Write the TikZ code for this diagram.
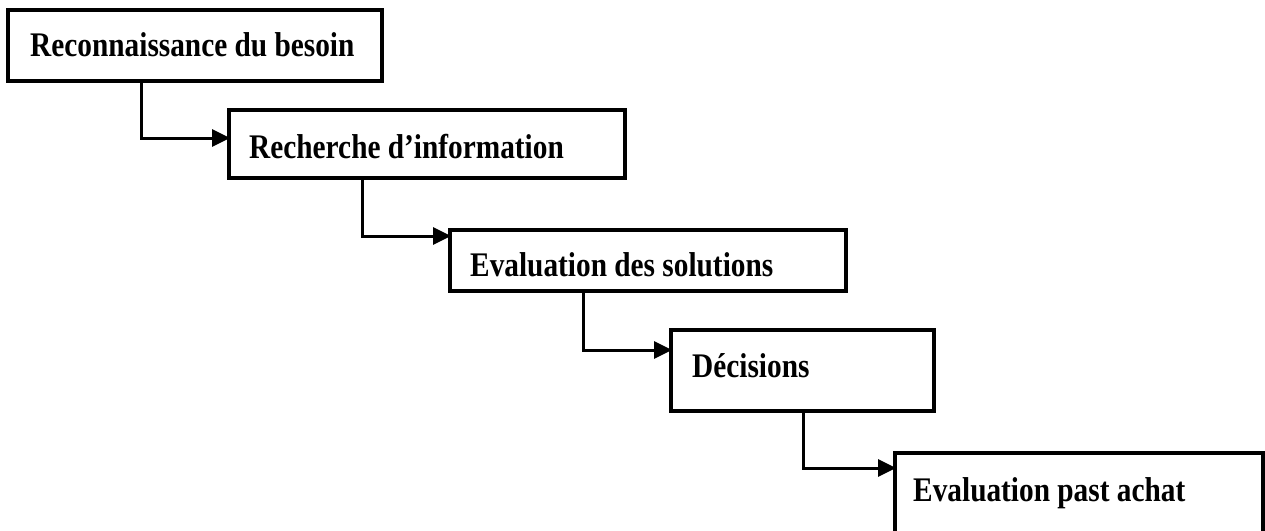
\documentclass[tikz,border=0pt]{standalone}
\usepackage{fontspec}
\setmainfont{Liberation Serif}[FakeStretch=0.85]
\usetikzlibrary{arrows.meta}
\begin{document}
\begin{tikzpicture}[x=1pt,y=-1pt,
  box/.style={draw=black,line width=3.4pt,rectangle,inner sep=0pt,outer sep=0pt},
  lbl/.style={anchor=base west,inner sep=0pt,font=\fontsize{34.5}{40}\selectfont\bfseries},
  conn/.style={line width=3pt,-{Triangle[length=18pt,width=17pt]},shorten >=-1pt}]
\useasboundingbox (0,0) rectangle (1265,530);
% process stages
\node[box,minimum width=374pt,minimum height=71pt] (b1) at (195,45.5) {};
\node[box,minimum width=396pt,minimum height=68pt] (b2) at (427,144) {};
\node[box,minimum width=396pt,minimum height=61pt] (b3) at (648,260.5) {};
\node[box,minimum width=263pt,minimum height=81pt] (b4) at (802.5,370.5) {};
\node[box,minimum width=368pt,minimum height=92pt] (b5) at (1079,499) {};
% stage titles
\node[lbl] (t1) at (30,56) {Reconnaissance du besoin};
\node[lbl] (t2) at (249,158) {Recherche d’information};
\node[lbl] (t3) at (470,276) {Evaluation des solutions};
\node[lbl] (t4) at (692,377) {Décisions};
\node[lbl] (t5) at (913,501) {Evaluation past achat};
% elbow points of the connectors
\coordinate (k1) at (141,138);
\coordinate (k2) at (362,236);
\coordinate (k3) at (583,350);
\coordinate (k4) at (803,468);
\draw[conn] (b1.south -| k1) |- (b2.west |- k1);
\draw[conn] (b2.south -| k2) |- (b3.west |- k2);
\draw[conn] (b3.south -| k3) |- (b4.west |- k3);
\draw[conn] (b4.south -| k4) |- (b5.west |- k4);
\end{tikzpicture}
\end{document}
